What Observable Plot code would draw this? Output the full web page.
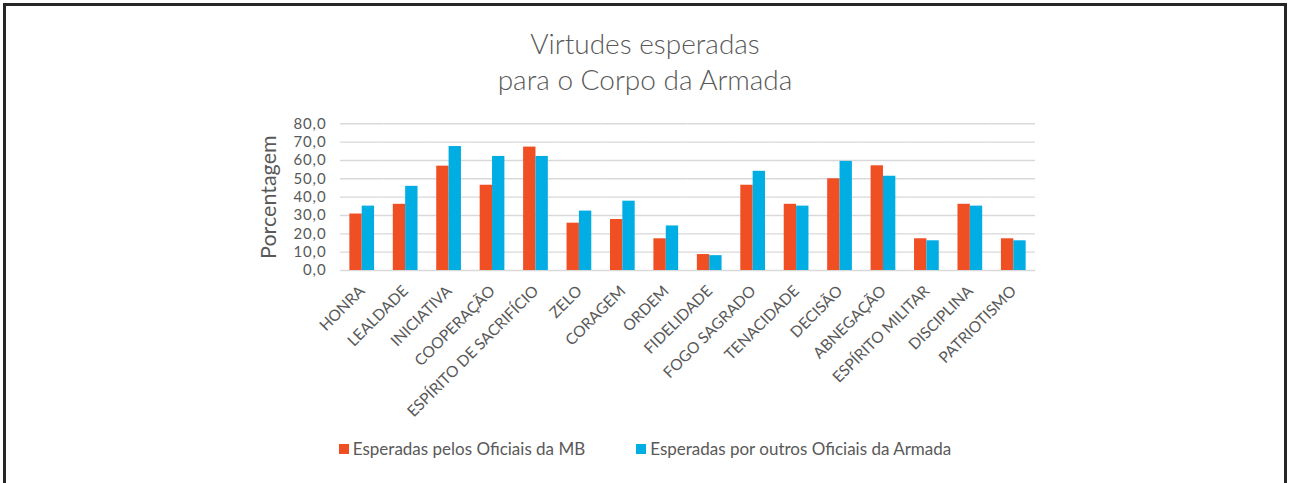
<!DOCTYPE html>
<html><head><meta charset="utf-8">
<script src="https://cdn.jsdelivr.net/npm/d3@7"></script>
<script src="https://cdn.jsdelivr.net/npm/@observablehq/plot@0.6"></script>
<style>
body{margin:0;background:#fff;}
#wrap{position:relative;width:1290px;height:483px;overflow:hidden;font-family:Lato,sans-serif;color:#595959;background:#fff;}
#frame{position:absolute;left:3px;top:3px;width:1284px;height:600px;border:3px solid #262626;box-sizing:border-box;pointer-events:none;}
#title{height:110px;box-sizing:border-box;padding-top:25px;text-align:center;font-size:28px;font-weight:300;line-height:36px;color:#595959;}
#chart svg{display:block;}
#legend{display:flex;justify-content:center;gap:51px;font-size:17px;margin-top:13px;}
#legend .item{display:flex;align-items:center;}
#legend .sw{width:10px;height:10px;margin-right:4px;}
</style></head>
<body>
<div id="wrap">
  <div id="frame"></div>
  <div id="title">Virtudes esperadas<br>para o Corpo da Armada</div>
  <div id="chart"></div>
  <div id="legend"></div>
</div>
<script>
const categories = ["HONRA","LEALDADE","INICIATIVA","COOPERAÇÃO","ESPÍRITO DE SACRIFÍCIO","ZELO","CORAGEM","ORDEM","FIDELIDADE","FOGO SAGRADO","TENACIDADE","DECISÃO","ABNEGAÇÃO","ESPÍRITO MILITAR","DISCIPLINA","PATRIOTISMO"];
const seriesNames = ["Esperadas pelos Oficiais da MB","Esperadas por outros Oficiais da Armada"];
const valuesMB = [30.8,36.1,56.9,46.5,67.3,25.8,27.8,17.3,8.7,46.5,36.1,50.0,57.1,17.3,36.1,17.3];
const valuesOutros = [35.1,45.9,67.6,62.2,62.2,32.4,37.8,24.3,8.1,54.1,35.1,59.5,51.4,16.2,35.1,16.2];
const colors = ["#f04e23","#00aee4"];
const yTicks = [0,10,20,30,40,50,60,70,80];

const data = [];
categories.forEach((c,i)=>{
  data.push({cat:c, series:seriesNames[0], value:valuesMB[i]});
  data.push({cat:c, series:seriesNames[1], value:valuesOutros[i]});
});

const fmt = d => d.toFixed(1).replace(".", ",");

const plot = Plot.plot({
  width: 1290,
  height: 315,
  marginTop: 13.3,
  marginBottom: 155,
  marginLeft: 340,
  marginRight: 255,
  style: {fontFamily: "Lato, sans-serif", fontSize: "14.5px", color: "#595959", background: "transparent"},
  facet: {data, x: "cat"},
  fx: {domain: categories, padding: 0, round: false, label: null, tickRotate: -45, tickSize: 0, tickPadding: 18},
  x: {domain: seriesNames, paddingInner: 0, paddingOuter: 0.757, round: false, axis: null},
  y: {domain: [0,80], ticks: yTicks, tickFormat: fmt, tickSize: 0, tickPadding: 14, label: "Porcentagem", labelAnchor: "center", labelOffset: 80, labelArrow: "none"},
  color: {domain: seriesNames, range: colors},
  marks: [
    Plot.ruleY(yTicks, {stroke: "#d9d9d9", strokeWidth: 1.4}),
    Plot.barY(data, {x: "series", y: "value", fill: "series"})
  ]
});
document.getElementById("chart").appendChild(plot);
function styleGroup(label, props){
  plot.querySelectorAll(`[aria-label="${label}"]`).forEach(el=>{
    const targets = el.tagName==="text" ? [el] : [el, ...el.querySelectorAll("text")];
    targets.forEach(t=>Object.assign(t.style, props));
  });
}
styleGroup("y-axis label", {fontSize: "21.5px"});
styleGroup("y-axis tick label", {fontSize: "15px", letterSpacing: "0.9px"});
styleGroup("fx-axis tick label", {fontSize: "15.5px"});

const legend = document.getElementById("legend");
seriesNames.forEach((s,i)=>{
  const item = document.createElement("div"); item.className="item";
  const sw = document.createElement("span"); sw.className="sw"; sw.style.background=colors[i];
  const tx = document.createElement("span"); tx.textContent=s;
  item.appendChild(sw); item.appendChild(tx); legend.appendChild(item);
});
</script>
</body></html>
